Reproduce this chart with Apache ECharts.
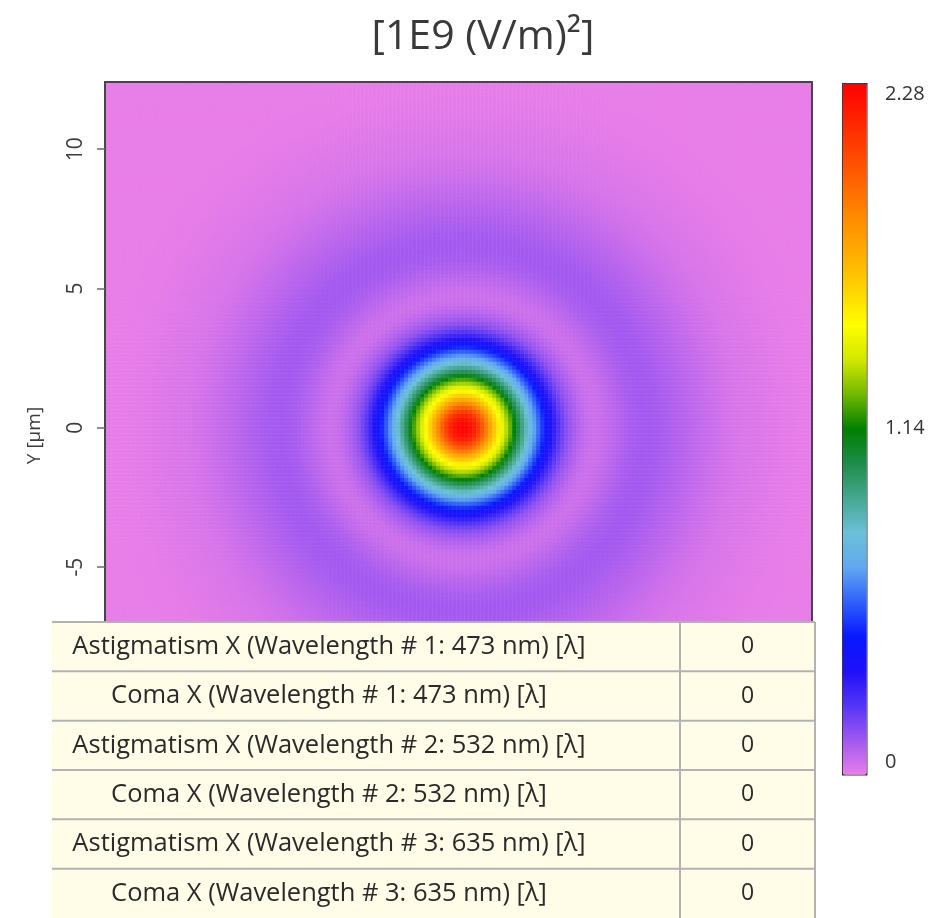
<!DOCTYPE html>
<html><head><meta charset="utf-8">
<script src="https://cdn.jsdelivr.net/npm/echarts@6/dist/echarts.min.js"></script>
<style>html,body{margin:0;padding:0;background:#fff}#c{width:933px;height:918px}</style>
</head><body><div id="c"></div>
<script>
// ---------- data ----------
const titleText = '[1E9 (V/m)\u00B2]';
const yAxisName = 'Y [\u00B5m]';
const yTickValues = [-10, -5, 0, 5, 10];
const colorbarTicks = [0, 1.14, 2.28];
const valueMin = 0;
const valueMax = 2.28;
const xRange = [-12.85, 12.52];
const yRange = [-12.96, 12.41];
// radial intensity profile (radius in µm, value in 1E9 (V/m)^2)
const radiusUm = [0, 0.25, 0.5, 0.75, 1.0, 1.25, 1.5, 1.75, 2.0, 2.25, 2.5, 2.75, 3.0, 3.25, 3.5, 3.75, 4.0, 4.25, 4.5, 4.75, 5.0, 5.5, 6.0, 6.5, 7.0, 7.5, 8.0, 8.5, 9.0, 9.5, 10.0, 11.0, 12.0, 13.0, 18.0];
const intensity = [2.28, 2.25, 2.15, 1.97, 1.75, 1.55, 1.38, 1.21, 1.02, 0.86, 0.71, 0.56, 0.42, 0.31, 0.21, 0.14, 0.10, 0.07, 0.05, 0.045, 0.05, 0.075, 0.10, 0.11, 0.105, 0.09, 0.075, 0.06, 0.045, 0.032, 0.024, 0.012, 0.004, 0.0, 0.0];
const colorScale = ['#e87ee8', '#a058f0', '#5535f5', '#2010f8', '#0818ff', '#3060fa', '#60a8f0', '#6cc0d8', '#45a890', '#1f8c4a', '#008000', '#70b800', '#d0e800', '#ffff00', '#ffd500', '#ffb000', '#ff9000', '#ff6a00', '#ff4500', '#ff2200', '#ff0000'];
const tableLabels = [
  'Astigmatism X (Wavelength # 1: 473 nm) [\u03BB]',
  'Coma X (Wavelength # 1: 473 nm) [\u03BB]',
  'Astigmatism X (Wavelength # 2: 532 nm) [\u03BB]',
  'Coma X (Wavelength # 2: 532 nm) [\u03BB]',
  'Astigmatism X (Wavelength # 3: 635 nm) [\u03BB]',
  'Coma X (Wavelength # 3: 635 nm) [\u03BB]'
];
const tableValues = ['0', '0', '0', '0', '0', '0'];

// ---------- build heatmap cells from the radial profile ----------
const N = 177;
function profileAt(r) {
  for (let k = 0; k < radiusUm.length - 1; k++) {
    if (r >= radiusUm[k] && r <= radiusUm[k + 1]) {
      const t = (r - radiusUm[k]) / (radiusUm[k + 1] - radiusUm[k]);
      return intensity[k] + t * (intensity[k + 1] - intensity[k]);
    }
  }
  return intensity[intensity.length - 1];
}
const xCats = [], yCats = [], cells = [];
for (let i = 0; i < N; i++) {
  xCats.push(i); yCats.push(i);
}
for (let i = 0; i < N; i++) {
  const x = xRange[0] + (i + 0.5) * (xRange[1] - xRange[0]) / N;
  for (let j = 0; j < N; j++) {
    const y = yRange[0] + (j + 0.5) * (yRange[1] - yRange[0]) / N;
    cells.push([i, j, profileAt(Math.hypot(x, y))]);
  }
}

// ---------- table graphics ----------
const FONT = '"Open Sans", "Noto Sans", sans-serif';
const rowTop = 622, rowH = 49.33, tblLeft = 52, tblDiv = 680, tblRight = 815;
const lineCol = '#b2b2b2';
const graphics = [];
graphics.push({type: 'rect', z: 100, shape: {x: tblLeft, y: rowTop, width: tblRight - tblLeft, height: rowH * tableLabels.length}, style: {fill: '#fffde8'}});
tableLabels.forEach((lab, k) => {
  const y0 = rowTop + k * rowH;
  graphics.push({type: 'line', z: 101, shape: {x1: tblLeft, y1: y0, x2: tblRight, y2: y0}, style: {stroke: lineCol, lineWidth: 2}});
  graphics.push({type: 'text', z: 102, x: 329, y: y0 + rowH / 2, scaleX: 0.98,
    style: {text: lab, fill: '#2a2a2a', font: '26px ' + FONT, textAlign: 'center', textVerticalAlign: 'middle', align: 'center', verticalAlign: 'middle'}});
  graphics.push({type: 'text', z: 102, x: (tblDiv + tblRight) / 2, y: y0 + rowH / 2,
    style: {text: tableValues[k], fill: '#2a2a2a', font: '23px ' + FONT, textAlign: 'center', textVerticalAlign: 'middle', align: 'center', verticalAlign: 'middle'}});
});
graphics.push({type: 'line', z: 101, shape: {x1: tblDiv, y1: rowTop, x2: tblDiv, y2: 918}, style: {stroke: lineCol, lineWidth: 2}});
graphics.push({type: 'line', z: 101, shape: {x1: tblRight, y1: rowTop, x2: tblRight, y2: 918}, style: {stroke: lineCol, lineWidth: 2}});

// ---------- chart ----------
const chart = echarts.init(document.getElementById('c'), null, {renderer: 'canvas'});
const frame = {show: true, onZero: false, lineStyle: {color: '#4a4250', width: 2}};
chart.setOption({
  animation: false,
  backgroundColor: '#ffffff',
  textStyle: {fontFamily: FONT},
  title: {
    text: titleText, left: 478, top: 12, textAlign: 'center',
    textStyle: {fontFamily: FONT, fontSize: 41, fontWeight: 'normal', color: '#3a3a3a'}
  },
  grid: [
    {left: 105, top: 82, width: 707, height: 707, outerBoundsMode: 'none', containLabel: false},
    {left: 842, top: 94, width: 24, height: 668, outerBoundsMode: 'none', containLabel: false}
  ],
  xAxis: [
    {type: 'category', gridIndex: 0, data: xCats, show: false},
    {type: 'value', gridIndex: 0, min: xRange[0], max: xRange[1], position: 'bottom', z: 5,
      axisLine: frame, axisTick: {show: false}, axisLabel: {show: false}, splitLine: {show: false}},
    {type: 'value', gridIndex: 0, min: xRange[0], max: xRange[1], position: 'top', z: 5,
      axisLine: frame, axisTick: {show: false}, axisLabel: {show: false}, splitLine: {show: false}},
    {type: 'value', gridIndex: 1, min: 0, max: 1, show: false}
  ],
  yAxis: [
    {type: 'category', gridIndex: 0, data: yCats, show: false},
    {type: 'value', gridIndex: 0, min: yRange[0], max: yRange[1], position: 'left', z: 5,
      axisLine: frame,
      axisTick: {show: true, length: 8, customValues: yTickValues, lineStyle: {color: '#6a6a6a', width: 1.5}},
      axisLabel: {show: true, customValues: yTickValues, rotate: 90, margin: 18, fontSize: 21, color: '#3c3c3c', fontFamily: FONT},
      splitLine: {show: false},
      name: yAxisName, nameLocation: 'middle', nameGap: 61, nameRotate: 90, nameMoveOverlap: false,
      nameTextStyle: {fontSize: 19, color: '#3c3c3c', fontFamily: FONT}},
    {type: 'value', gridIndex: 0, min: yRange[0], max: yRange[1], position: 'right', z: 5,
      axisLine: frame, axisTick: {show: false}, axisLabel: {show: false}, splitLine: {show: false}},
    {type: 'value', gridIndex: 1, min: valueMin, max: valueMax, position: 'right',
      axisLine: {show: false}, axisTick: {show: false}, splitLine: {show: false},
      axisLabel: {show: true, customValues: colorbarTicks, margin: 19, fontSize: 20, color: '#333', fontFamily: FONT,
        formatter: v => (v === 0 ? '0' : v.toFixed(2))}}
  ],
  visualMap: {
    type: 'continuous', seriesIndex: 0, dimension: 2,
    min: valueMin, max: valueMax, calculable: false, hoverLink: false,
    left: 842, top: 83, itemWidth: 24, itemHeight: 691, padding: 0,
    text: null, showLabel: false,
    borderColor: '#3a2c34', borderWidth: 1.5,
    inRange: {color: colorScale}
  },
  series: [{
    type: 'heatmap', xAxisIndex: 0, yAxisIndex: 0, data: cells,
    progressive: 0, itemStyle: {borderWidth: 0}, emphasis: {disabled: true}
  }],
  graphic: graphics
});
</script>
</body></html>
